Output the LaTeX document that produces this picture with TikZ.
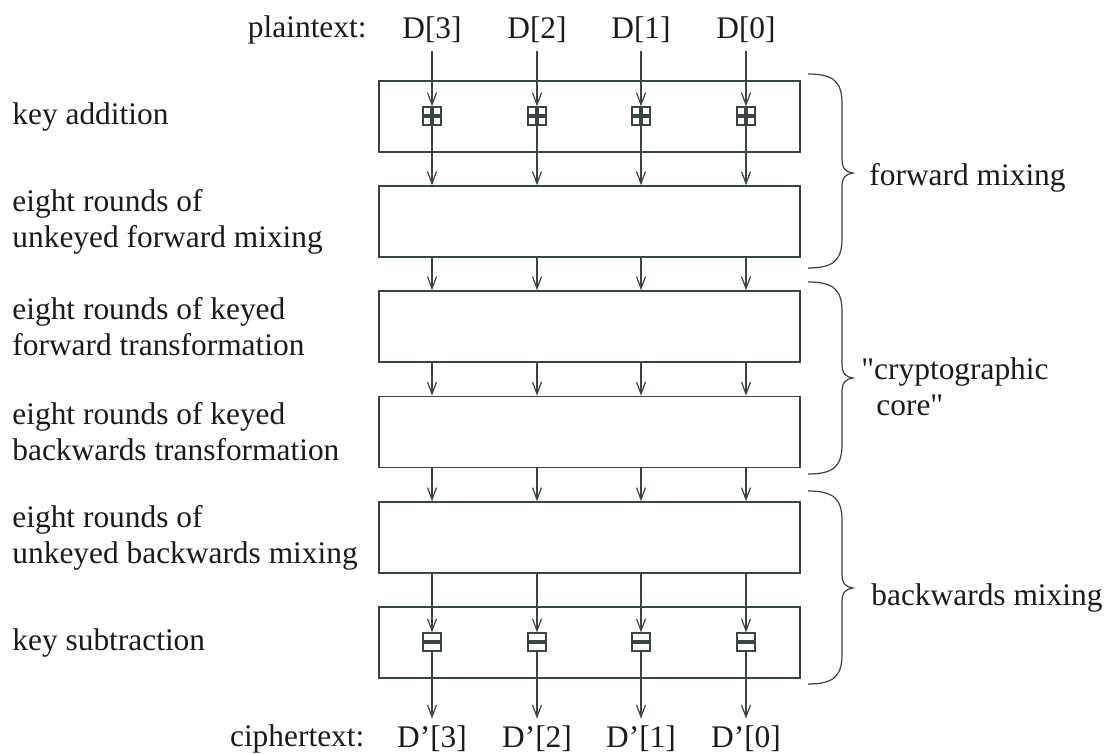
\documentclass[tikz,border=0pt]{standalone}
\usepackage{fontspec}
\setmainfont{Liberation Serif}[Ligatures=TeXOff]
\usetikzlibrary{arrows.meta,positioning}
\definecolor{Ink}{HTML}{1A1A1A}
\definecolor{Wire}{HTML}{3A4444}
\tikzset{stage/.style={draw=Wire,line width=0.75pt,minimum width=210.5pt,
    minimum height=35.5pt,inner sep=0pt},
  txt/.style={inner sep=0pt,text=Ink,font=\fontsize{15.7}{18}\selectfont},
  lbl/.style={txt,anchor=west,align=left},
  flow/.style={-{Straight Barb[length=6pt,width=4.5pt]},draw=Wire,line width=0.6pt},
  opbox/.style={draw=Wire,line width=0.6pt,fill=white,minimum size=9pt,inner sep=0pt},
  addop/.style={opbox,path picture={\draw[line width=1.6pt,Wire]
      (path picture bounding box.north) -- (path picture bounding box.south)
      (path picture bounding box.west) -- (path picture bounding box.east);}},
  subop/.style={opbox,path picture={\draw[line width=1.6pt,Wire]
      (path picture bounding box.west) -- (path picture bounding box.east);}},
  curly/.style={draw=Wire,line width=0.6pt}}

\begin{document}
\begin{tikzpicture}[x=0.5pt,y=-0.5pt]
  \useasboundingbox (0,0) rectangle (1107,754);
  % the six stages
  \node[stage] (ka) at (589.5,116.5) {};
  \node[stage] (fm) at (589.5,221.5) {};
  \node[stage] (ft) at (589.5,326.5) {};
  \node[stage] (bt) at (589.5,432) {};
  \node[stage] (bm) at (589.5,537.5) {};
  \node[stage] (ks) at (589.5,642.5) {};

  \node[lbl] (lka) at (12,116.5) {key addition};
  \node[lbl] (lfm) at (12,221.5) {eight rounds of\\unkeyed forward mixing};
  \node[lbl] (lft) at (12,326.5) {eight rounds of keyed\\forward transformation};
  \node[lbl] (lbt) at (12,432) {eight rounds of keyed\\backwards transformation};
  \node[lbl] (lbm) at (12,537.5) {eight rounds of\\unkeyed backwards mixing};
  \node[lbl] (lks) at (12,642.5) {key subtraction};

  % words in and out
  \foreach \i/\x in {3/432,2/537,1/641,0/746} {
    \node[txt] (p\i) at (\x,30) {D[\i]};
    \node[addop] (a\i) at (\x,116) {};
    \node[subop] (s\i) at (\x,642) {};
    \node[txt] (c\i) at (\x,739) {D’[\i]};
    \draw[flow,shorten <=4pt] (p\i) -- (a\i);
    \draw[flow] (a\i) -- (a\i |- fm.north);
    \draw[flow] (a\i |- fm.south) -- (a\i |- ft.north);
    \draw[flow] (a\i |- ft.south) -- (a\i |- bt.north);
    \draw[flow] (a\i |- bt.south) -- (a\i |- bm.north);
    \draw[flow] (a\i |- bm.south) -- (s\i);
    \draw[flow,shorten >=3.5pt] (s\i) -- (c\i);
  }
  \node[txt,left=17.5pt of p3] (ptx) {plaintext:};
  \node[txt,left=16pt of c3] (ctx) {ciphertext:};

  % braces on the right
  \foreach \t/\m/\b in {74/173/268,282/378/474,491/588/684}
    \draw[curly] (808,\t) .. controls (834,\t) and (842,\t+8) .. (842,\t+30)
      -- (842,\m-14) .. controls (842,\m-4) and (846,\m-1) .. (853,\m)
      .. controls (846,\m+1) and (842,\m+4) .. (842,\m+14)
      -- (842,\b-30) .. controls (842,\b-8) and (834,\b) .. (808,\b);
  \node[lbl] (gfm) at (869,178) {forward mixing};
  \node[lbl] (gcc) at (861,387) {"cryptographic\\\hspace*{7.5pt}core"};
  \node[lbl] (gbm) at (871,598) {backwards mixing};
\end{tikzpicture}
\end{document}
